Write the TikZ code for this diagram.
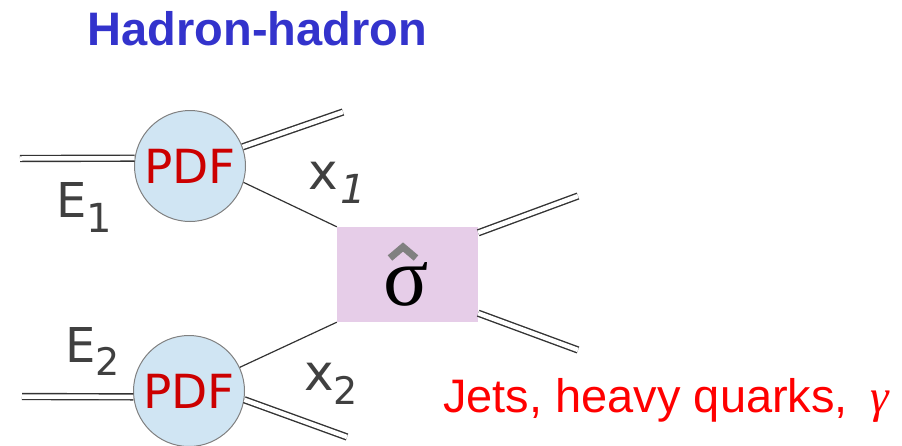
\documentclass[tikz,border=0pt]{standalone}
\usepackage{fontspec}
\setmainfont{Liberation Sans}
\newfontfamily\dvs{DejaVu Sans}
\newfontfamily\dvso{DejaVu Sans}[FakeSlant=0.2]
\newfontfamily\serifgr{Liberation Serif}
\definecolor{titleblue}{HTML}{3333CC}
\definecolor{pdfblue}{HTML}{D0E5F3}
\definecolor{pdfred}{HTML}{CC0000}
\definecolor{boxpink}{HTML}{E6CDE8}
\definecolor{labgray}{HTML}{404040}
\definecolor{linegray}{HTML}{333333}
\tikzset{
  pdfnode/.style={circle, draw=gray, line width=1pt, fill=pdfblue, minimum size=111pt, inner sep=0pt,
    text=pdfred, font=\dvs\fontsize{47}{47}\selectfont},
  dbl/.style={draw=linegray, double=white, double distance=4.5pt, line width=1.4pt},
  sgl/.style={draw=linegray, line width=1.2pt},
  lab/.style={text=labgray, inner sep=0pt, font=\dvs\fontsize{48}{48}\selectfont},
}
\begin{document}
\begin{tikzpicture}[x=1pt,y=-1pt]
\useasboundingbox (0,0) rectangle (902,445);
% title
\node[anchor=base, inner sep=0pt, text=titleblue, font=\bfseries\fontsize{47}{47}\selectfont] (title) at (257.5,45) {Hadron-hadron};
% nodes
\node[pdfnode] (pdf1) at (190,166) {PDF};
\node[pdfnode] (pdf2) at (189,391) {PDF};
\node[fill=boxpink, minimum width=141pt, minimum height=95pt, inner sep=0pt] (box) at (407.5,274.5) {};
\node[anchor=base, inner sep=0pt, font=\serifgr\fontsize{84}{84}\selectfont] (sig) at (406,305) {σ};
\draw[gray, line width=7pt, line cap=butt, line join=miter]
  ([xshift=-16pt,yshift=47pt]sig.base) -- ([xshift=-3pt,yshift=58pt]sig.base) -- ([xshift=10pt,yshift=47pt]sig.base);
% coordinates
\coordinate (in1) at (20,158.5);
\coordinate (in2) at (22,396.5);
\coordinate (r1) at (343,112);
\coordinate (r2) at (347,437);
\coordinate (o1) at (578,196);
\coordinate (o2) at (578,350);
% connectors
\draw[dbl] (in1) -- (pdf1.172);
\draw[dbl] (pdf1.20) -- (r1);
\draw[sgl] (pdf1.-17) -- (box.north west);
\draw[dbl] (in2) -- (pdf2.186);
\draw[sgl] (pdf2.25) -- (box.south west);
\draw[dbl] (pdf2.-9) -- (r2);
\draw[dbl] ([yshift=-6pt]box.north east) -- (o1);
\draw[dbl] ([yshift=9pt]box.south east) -- (o2);
% labels
\node[lab, anchor=base west] (e1) at (56,217) {E\lower15pt\hbox{\fontsize{40}{40}\selectfont 1}};
\node[lab, anchor=base west] (e2) at (65,362) {E\lower13pt\hbox{\fontsize{38}{38}\selectfont 2}};
\node[lab, anchor=base west, font=\dvs\fontsize{50}{50}\selectfont] (x1) at (308,189) {x\lower14pt\hbox{\dvso\fontsize{40}{40}\selectfont 1}};
\node[lab, anchor=base west, font=\dvs\fontsize{50}{50}\selectfont] (x2) at (304,390) {x\lower14pt\hbox{\fontsize{38}{38}\selectfont 2}};
\node[anchor=base west, inner sep=0pt, text=red, font=\fontsize{47}{47}\selectfont] (jets) at (443,412) {Jets, heavy quarks,\hspace{22pt}{\serifgr\itshape γ}};
\end{tikzpicture}
\end{document}
